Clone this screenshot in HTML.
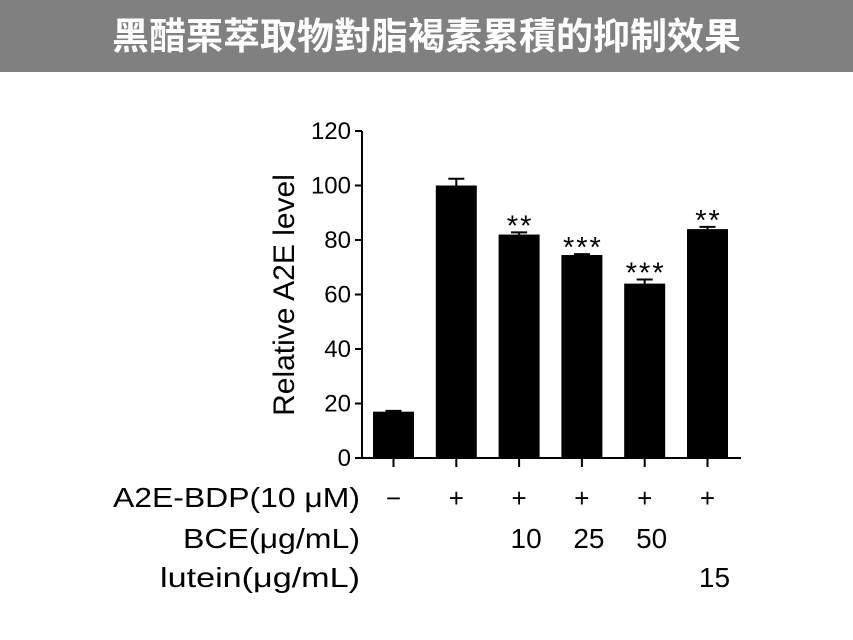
<!DOCTYPE html>
<html><head><meta charset="utf-8"><style>
body{margin:0;width:853px;height:640px;background:#fff;overflow:hidden;font-family:"Liberation Sans",Arial,sans-serif}
#hdr{position:absolute;left:0;top:0;width:853px;height:72px;background:#808080;color:#fff;font:bold 37px "Liberation Sans","Noto Sans CJK TC",sans-serif;text-align:center;line-height:74px}
</style></head><body>
<div id="hdr">黑醋栗萃取物對脂褐素累積的抑制效果</div>
<svg id="chart" width="853" height="640" style="position:absolute;left:0;top:0"></svg>
<script>
const categories=["control","A2E","BCE10","BCE25","BCE50","lutein15"];
const values=[17,100,82,74.5,64,84];
const errors=[0.3,2.5,0.8,0.3,1.5,0.8];
const stars=["","","**","***","***","**"];
const yTicks=[0,20,40,60,80,100,120];
const rowA2E=["−","+","+","+","+","+"];
const rowBCE=["","","10","25","50",""];
const rowLutein=["","","","","","15"];
const NS="http://www.w3.org/2000/svg";
const svg=document.getElementById('chart');
const x0=362,yBase=458,pxPer=(458-131)/120,pitch=62.8,firstC=393.5,bw=41;
const y=v=>yBase-v*pxPer;
const xc=i=>firstC+i*pitch;
function mk(t,a){const e=document.createElementNS(NS,t);for(const k in a)e.setAttribute(k,a[k]);svg.appendChild(e);return e;}
let ax=mk('line',{x1:x0,y1:y(120),x2:x0,y2:yBase,stroke:'#000','stroke-width':2});


let bx=mk('line',{x1:x0,y1:yBase,x2:741,y2:yBase,stroke:'#000','stroke-width':2});


yTicks.forEach(v=>{
 let t=mk('line',{x1:x0-7,y1:y(v),x2:x0,y2:y(v),stroke:'#000','stroke-width':2});
 
 
 let l=mk('text',{x:x0-11,y:y(v)+8,'text-anchor':'end','font-size':24,fill:'#000'});
 l.textContent=v;
 
 
});
let yt=mk('text',{x:0,y:0,'text-anchor':'middle','font-size':30,fill:'#000',transform:'translate(294,295) rotate(-90)'});
yt.textContent='Relative A2E level';


categories.forEach((c,i)=>{
 const cx=xc(i);
 let b=mk('rect',{x:cx-bw/2,y:y(values[i]),width:bw,height:yBase-y(values[i]),fill:'#000'});
 
 
 const top=y(values[i]+errors[i]);
 let e=mk('path',{d:`M${cx} ${y(values[i])}V${top}M${cx-8} ${top}H${cx+8}`,stroke:'#000','stroke-width':2,fill:'none'});
 
 
 let tk=mk('line',{x1:cx,y1:yBase,x2:cx,y2:yBase+9,stroke:'#000','stroke-width':2});
 
 
 if(stars[i]){let s=mk('text',{x:cx+1,y:top+3,'text-anchor':'middle','font-size':29,'letter-spacing':2,fill:'#000'});
  s.textContent=stars[i];
  
  }
});
const rows=[["A2E-BDP(10 μM)",rowA2E,507,247],["BCE(μg/mL)",rowBCE,548,177],["lutein(μg/mL)",rowLutein,587,200]];
rows.forEach(([lab,arr,yy,len])=>{
 let t=mk('text',{x:360,y:yy,'text-anchor':'end','font-size':28,fill:'#000',textLength:len,lengthAdjust:'spacingAndGlyphs'});
 t.textContent=lab;
 
 
 arr.forEach((v,i)=>{if(!v)return;
  let c=mk('text',{x:xc(i)+(arr===rowA2E?0:7),y:yy,'text-anchor':'middle','font-size':arr===rowA2E?26:28,'font-weight':arr===rowA2E?'300':'normal',fill:'#000'});
  c.textContent=v;
  
  });
});
</script>
</body></html>
